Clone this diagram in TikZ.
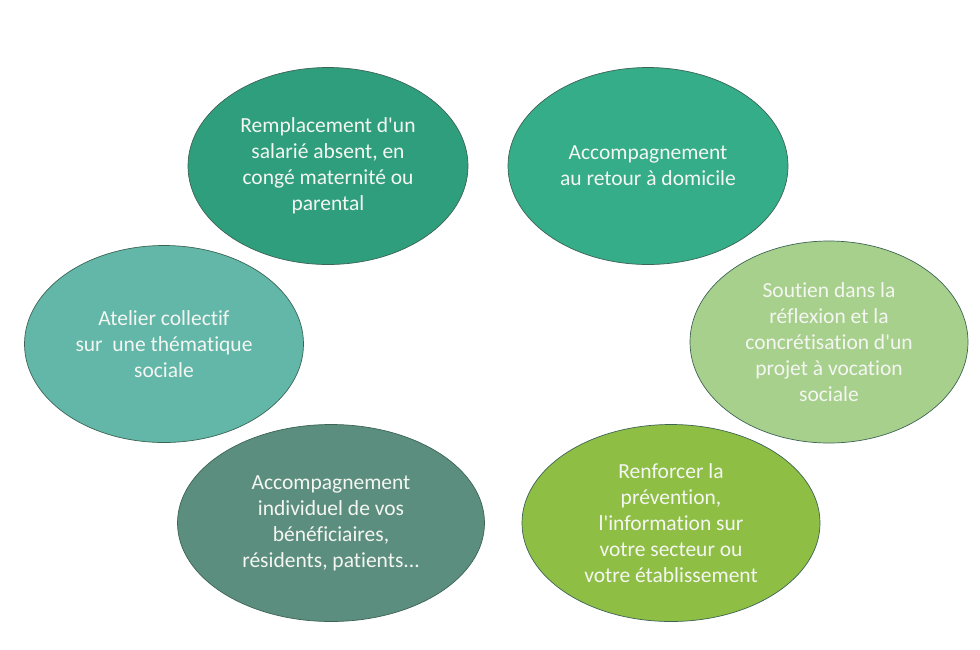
\documentclass[tikz,border=0pt]{standalone}
\usepackage{fontspec}
\setmainfont{Carlito}[Ligatures={TeXOff,NoCommon}]
\usetikzlibrary{shapes.geometric}
\definecolor{cTL}{HTML}{2F9E7D}
\definecolor{cTR}{HTML}{34AD88}
\definecolor{cR}{HTML}{A8D08D}
\definecolor{cBR}{HTML}{8FBE45}
\definecolor{cBL}{HTML}{5B8E7E}
\definecolor{cL}{HTML}{62B7A8}
\definecolor{cEdge}{HTML}{3D6455}
\definecolor{cText}{HTML}{F4F6F2}
\tikzset{
  bubble/.style={ellipse, draw=cEdge, line width=0.7pt, inner sep=0pt,
    text=cText, align=center, font=\fontsize{21.5}{26}\selectfont},
}
\begin{document}
\begin{tikzpicture}[x=1pt,y=-1pt]
\useasboundingbox[fill=white] (0,0) rectangle (980,649);
\node[bubble, fill=cTL, minimum width=280pt, minimum height=197pt] (tl) at (328,166)
  {Remplacement d'un\\salarié absent, en\\congé maternité ou\\parental};
\node[bubble, fill=cTR, minimum width=280pt, minimum height=197pt] (tr) at (648,166)
  {Accompagnement\\au retour à domicile};
\node[bubble, fill=cR, minimum width=278pt, minimum height=202pt] (r) at (829,342)
  {Soutien dans la\\réflexion et la\\concrétisation d'un\\projet à vocation\\sociale};
\node[bubble, fill=cL, minimum width=279pt, minimum height=197pt] (l) at (164,344)
  {Atelier collectif\\sur\ \ une thématique\\sociale};
\node[bubble, fill=cBL, minimum width=307pt, minimum height=197pt] (bl) at (331,523)
  {Accompagnement\\individuel de vos\\bénéficiaires,\\résidents, patients...};
\node[bubble, fill=cBR, minimum width=298pt, minimum height=197pt] (br) at (671,523)
  {Renforcer la\\prévention,\\l'information sur\\votre secteur ou\\votre établissement};
\end{tikzpicture}
\end{document}
